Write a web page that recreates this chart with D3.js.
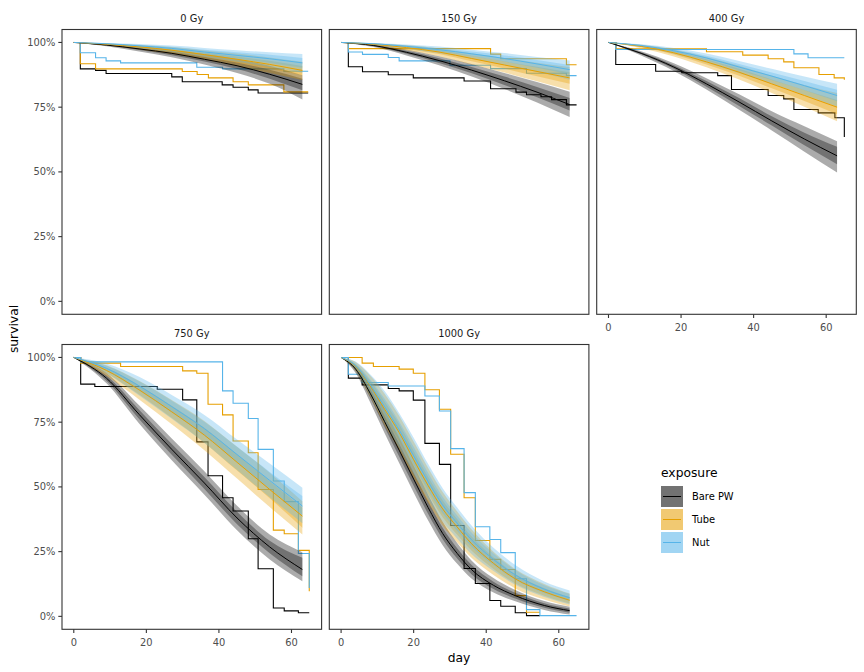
<!DOCTYPE html>
<html><head><meta charset="utf-8">
<script src="https://cdn.jsdelivr.net/npm/d3@7"></script>
<style>body{margin:0;background:#fff} text{font-family:"DejaVu Sans",sans-serif}</style>
</head><body><svg id="c" width="864" height="672"></svg>
<script>
// ---------- data ----------
const panels = ["0 Gy","150 Gy","400 Gy","750 Gy","1000 Gy"];
const exposures = ["Bare PW","Tube","Nut"];
const colors = ["#000000","#E69F00","#56B4E9"];
const yTicks = [0,0.25,0.5,0.75,1];
const yTickLabels = ["0%","25%","50%","75%","100%"];
const xTicks = [0,20,40,60];

const fitDaysA = [0,9,18,27,36,45,54,63];
const fitDaysB = [0,4,8,12,16,20,24,28,32,36,42,48,56,63];
const fitDays = {"0 Gy":fitDaysA,"150 Gy":fitDaysA,"400 Gy":fitDaysA,"750 Gy":fitDaysA,"1000 Gy":fitDaysB};

// model fit per panel: [Bare PW, Tube, Nut]
const fitMid = {
 "0 Gy":[[1,0.99,0.975,0.958,0.935,0.91,0.877,0.838],[1,0.993,0.983,0.97,0.953,0.935,0.915,0.892],[1,0.995,0.987,0.977,0.963,0.95,0.937,0.921]],
 "150 Gy":[[1,0.988,0.962,0.93,0.893,0.852,0.808,0.76],[1,0.993,0.98,0.963,0.938,0.913,0.888,0.863],[1,0.995,0.985,0.972,0.956,0.938,0.917,0.895]],
 "400 Gy":[[1,0.958,0.905,0.84,0.77,0.697,0.627,0.562],[1,0.985,0.96,0.925,0.885,0.84,0.795,0.75],[1,0.988,0.968,0.94,0.905,0.87,0.833,0.795]],
 "750 Gy":[[1,0.92,0.78,0.645,0.515,0.38,0.268,0.181],[1,0.95,0.875,0.79,0.7,0.595,0.49,0.387],[1,0.958,0.89,0.81,0.725,0.625,0.525,0.426]],
 "1000 Gy":[[1,0.955,0.862,0.752,0.642,0.53,0.42,0.32,0.243,0.18,0.12,0.08,0.042,0.022],[1,0.965,0.89,0.8,0.71,0.605,0.505,0.415,0.345,0.28,0.205,0.145,0.095,0.062],[1,0.968,0.895,0.81,0.72,0.62,0.52,0.43,0.36,0.295,0.22,0.16,0.105,0.072]]
};
const fitLo95 = {
 "0 Gy":[[1,0.985,0.965,0.943,0.915,0.882,0.84,0.78],[1,0.988,0.973,0.955,0.933,0.908,0.882,0.855],[1,0.991,0.978,0.963,0.944,0.925,0.905,0.883]],
 "150 Gy":[[1,0.982,0.95,0.912,0.868,0.82,0.768,0.712],[1,0.988,0.97,0.947,0.915,0.884,0.85,0.815],[1,0.99,0.976,0.958,0.937,0.913,0.886,0.856]],
 "400 Gy":[[1,0.95,0.89,0.818,0.74,0.66,0.578,0.498],[1,0.978,0.946,0.904,0.857,0.805,0.752,0.696],[1,0.982,0.956,0.922,0.881,0.84,0.797,0.752]],
 "750 Gy":[[1,0.9,0.745,0.603,0.47,0.333,0.22,0.136],[1,0.928,0.838,0.742,0.642,0.532,0.422,0.316],[1,0.938,0.853,0.763,0.67,0.565,0.46,0.36]],
 "1000 Gy":[[1,0.94,0.827,0.707,0.592,0.478,0.37,0.275,0.203,0.145,0.092,0.058,0.025,0.007],[1,0.948,0.848,0.738,0.642,0.535,0.438,0.35,0.285,0.225,0.16,0.108,0.065,0.038],[1,0.951,0.853,0.748,0.652,0.55,0.453,0.365,0.3,0.24,0.175,0.122,0.075,0.046]]
};
const fitHi95 = {
 "0 Gy":[[1,0.994,0.984,0.971,0.955,0.936,0.91,0.873],[1,0.996,0.99,0.982,0.969,0.957,0.942,0.925],[1,0.998,0.994,0.988,0.979,0.97,0.962,0.955]],
 "150 Gy":[[1,0.993,0.973,0.947,0.917,0.882,0.847,0.81],[1,0.997,0.989,0.977,0.958,0.94,0.922,0.905],[1,0.998,0.992,0.984,0.972,0.959,0.944,0.93]],
 "400 Gy":[[1,0.966,0.92,0.862,0.8,0.734,0.676,0.618],[1,0.991,0.973,0.944,0.91,0.872,0.836,0.805],[1,0.993,0.979,0.957,0.928,0.898,0.868,0.84]],
 "750 Gy":[[1,0.94,0.815,0.687,0.56,0.427,0.316,0.248],[1,0.97,0.91,0.836,0.755,0.655,0.555,0.445],[1,0.977,0.925,0.855,0.778,0.683,0.59,0.497]],
 "1000 Gy":[[1,0.97,0.897,0.797,0.692,0.582,0.47,0.365,0.283,0.215,0.148,0.102,0.059,0.037],[1,0.982,0.93,0.86,0.775,0.675,0.573,0.48,0.405,0.335,0.25,0.183,0.125,0.088],[1,0.984,0.935,0.87,0.785,0.69,0.588,0.495,0.42,0.35,0.265,0.198,0.135,0.1]]
};
const fitLo50 = {
 "0 Gy":[[1,0.988,0.971,0.951,0.926,0.897,0.86,0.815],[1,0.991,0.978,0.962,0.943,0.922,0.898,0.873],[1,0.993,0.982,0.97,0.953,0.937,0.921,0.902]],
 "150 Gy":[[1,0.985,0.956,0.921,0.881,0.836,0.788,0.737],[1,0.991,0.975,0.955,0.927,0.899,0.869,0.84],[1,0.993,0.98,0.965,0.947,0.926,0.902,0.876]],
 "400 Gy":[[1,0.954,0.898,0.829,0.755,0.679,0.603,0.53],[1,0.982,0.953,0.915,0.871,0.823,0.774,0.723],[1,0.985,0.962,0.931,0.893,0.855,0.815,0.773]],
 "750 Gy":[[1,0.91,0.762,0.624,0.492,0.356,0.244,0.155],[1,0.939,0.857,0.766,0.671,0.563,0.456,0.342],[1,0.948,0.872,0.787,0.698,0.595,0.492,0.39]],
 "1000 Gy":[[1,0.948,0.845,0.73,0.617,0.504,0.395,0.298,0.223,0.162,0.106,0.069,0.033,0.014],[1,0.956,0.869,0.769,0.676,0.57,0.472,0.383,0.315,0.253,0.183,0.127,0.08,0.05],[1,0.96,0.874,0.779,0.686,0.585,0.487,0.398,0.33,0.268,0.198,0.141,0.09,0.059]]
};
const fitHi50 = {
 "0 Gy":[[1,0.992,0.979,0.965,0.945,0.923,0.895,0.86],[1,0.995,0.987,0.976,0.961,0.946,0.929,0.909],[1,0.997,0.991,0.983,0.972,0.962,0.952,0.94]],
 "150 Gy":[[1,0.991,0.968,0.939,0.905,0.868,0.828,0.785],[1,0.995,0.985,0.97,0.949,0.927,0.906,0.885],[1,0.997,0.989,0.978,0.965,0.95,0.932,0.913]],
 "400 Gy":[[1,0.962,0.912,0.851,0.785,0.715,0.651,0.597],[1,0.988,0.967,0.935,0.898,0.857,0.816,0.778],[1,0.991,0.974,0.949,0.917,0.884,0.851,0.817]],
 "750 Gy":[[1,0.93,0.798,0.666,0.538,0.404,0.292,0.226],[1,0.96,0.893,0.813,0.728,0.626,0.523,0.42],[1,0.968,0.908,0.833,0.752,0.655,0.558,0.465]],
 "1000 Gy":[[1,0.962,0.879,0.774,0.667,0.556,0.445,0.342,0.263,0.198,0.134,0.091,0.051,0.03],[1,0.974,0.91,0.83,0.743,0.64,0.539,0.448,0.376,0.308,0.228,0.164,0.11,0.075],[1,0.976,0.915,0.84,0.753,0.655,0.554,0.462,0.39,0.323,0.243,0.179,0.12,0.086]]
};

// Kaplan-Meier steps: [day, survival]
const kmBare = {
 "0 Gy":[[0,1],[1.8,0.898],[6,0.892],[8.9,0.88],[27,0.867],[29.9,0.848],[40.9,0.836],[43.9,0.827],[48.1,0.817],[50.8,0.805],[64.6,0.805]],
 "150 Gy":[[0,1],[2,0.906],[5.9,0.887],[13,0.875],[19.9,0.863],[33.9,0.851],[41.2,0.821],[48.2,0.808],[51.1,0.798],[55.1,0.79],[58,0.779],[62.1,0.759],[64.9,0.759]],
 "400 Gy":[[0,1],[2,0.915],[13,0.889],[20.2,0.883],[30.1,0.872],[33.9,0.818],[44,0.795],[48.3,0.782],[51.1,0.741],[57.8,0.728],[62.4,0.709],[65,0.635]],
 "750 Gy":[[0,1],[1.9,0.897],[5.8,0.888],[23,0.877],[30,0.836],[33.9,0.674],[37,0.543],[41,0.458],[43.9,0.407],[48.1,0.3],[50.8,0.184],[55,0.032],[58,0.021],[61.9,0.014],[64.9,0.014]],
 "1000 Gy":[[0,1],[2,0.92],[5.8,0.894],[13,0.88],[16,0.871],[19.9,0.835],[23.1,0.668],[27.1,0.587],[30.2,0.351],[33.9,0.185],[37,0.127],[41,0.061],[44,0.039],[48,0.014],[51.1,0.003],[54.8,0.003]]
};
const kmTube = {
 "0 Gy":[[0,1],[1.8,0.918],[6,0.898],[29.9,0.888],[34,0.876],[37.1,0.863],[43.9,0.848],[48.1,0.836],[57.9,0.809],[64.6,0.809]],
 "150 Gy":[[0,1],[2,0.976],[41.2,0.955],[44,0.937],[62.1,0.914],[64.9,0.914]],
 "400 Gy":[[0,1],[2,0.975],[27,0.964],[37,0.951],[44,0.937],[48.3,0.925],[51.1,0.902],[58,0.876],[62.2,0.863],[65,0.856]],
 "750 Gy":[[0,1],[1.9,0.978],[12.9,0.965],[30,0.948],[33.9,0.939],[37,0.819],[41,0.778],[43.9,0.677],[48.1,0.632],[50.8,0.49],[55,0.333],[58,0.319],[61.9,0.255],[64.9,0.097]],
 "1000 Gy":[[0,1],[5.8,0.978],[8.9,0.965],[16,0.955],[19.9,0.939],[23.1,0.875],[27.1,0.8],[30.2,0.626],[33.9,0.458],[37,0.293],[41,0.22],[44,0.181],[48,0.08],[51.1,0.016],[54.8,0.016]]
};
const kmNut = {
 "0 Gy":[[0,1],[1.8,0.96],[6,0.941],[8.9,0.929],[12.9,0.921],[33.9,0.904],[41,0.898],[57.9,0.889],[64.6,0.889]],
 "150 Gy":[[0,1],[2,0.963],[5.9,0.954],[13,0.942],[16,0.929],[30,0.912],[41.2,0.899],[51.1,0.881],[62.1,0.872],[64.9,0.872]],
 "400 Gy":[[0,1],[2,0.973],[51.1,0.956],[55,0.941],[65,0.941]],
 "750 Gy":[[0,1],[1.9,0.983],[41,0.871],[43.9,0.823],[48.1,0.764],[50.8,0.645],[55,0.523],[58,0.443],[61.9,0.243],[64.9,0.11]],
 "1000 Gy":[[0,1],[2,0.935],[5.8,0.903],[13,0.89],[23.1,0.851],[27.1,0.793],[30.2,0.648],[33.9,0.478],[37,0.346],[41,0.297],[44,0.246],[48,0.145],[51.1,0.026],[54.8,0.003],[64.9,0.003]]
};
const kmAll = [kmBare, kmTube, kmNut];

// ---------- layout ----------
const svg = d3.select("#c");
const colX = [62, 329.3, 596.7], rowY = [29.5, 344.5];
const pw = 259.6, ph = 284.8;
const panelPos = [[0,0],[1,0],[2,0],[0,1],[1,1]];
const showY = [true,false,false,true,false];
const showX = [false,false,true,true,true];
const ribbonAlpha = 0.33;

const x = d3.scaleLinear().domain([-3.25, 68.3]).range([0, pw]);
const y = d3.scaleLinear().domain([-0.05, 1.05]).range([ph, 0]);

panels.forEach((p, i) => {
  const [c, r] = panelPos[i];
  const g = svg.append("g").attr("transform", `translate(${colX[c]},${rowY[r]})`);
  const cid = "clip" + i;
  g.append("clipPath").attr("id", cid).append("rect").attr("width", pw).attr("height", ph);
  const inner = g.append("g").attr("clip-path", `url(#${cid})`);

  // KM step curves
  const stepLine = d3.line().x(d => x(d[0])).y(d => y(d[1])).curve(d3.curveStepAfter);
  kmAll.forEach((km, e) => {
    inner.append("path").attr("d", stepLine(km[p])).attr("fill", "none")
      .attr("stroke", colors[e]).attr("stroke-width", 1.1);
  });

  // ribbons
  const days = fitDays[p];
  exposures.forEach((ex, e) => {
    [[fitLo95, fitHi95], [fitLo50, fitHi50]].forEach(([lo, hi]) => {
      const area = d3.area().x((d, k) => x(days[k])).y0((d, k) => y(lo[p][e][k])).y1((d, k) => y(hi[p][e][k]))
        .curve(d3.curveMonotoneX);
      inner.append("path").attr("d", area(days)).attr("fill", colors[e]).attr("fill-opacity", ribbonAlpha);
    });
  });
  // fitted lines
  exposures.forEach((ex, e) => {
    const ln = d3.line().x((d, k) => x(days[k])).y((d, k) => y(fitMid[p][e][k])).curve(d3.curveMonotoneX);
    inner.append("path").attr("d", ln(days)).attr("fill", "none").attr("stroke", colors[e]).attr("stroke-width", 1);
  });

  // border
  g.append("rect").attr("width", pw).attr("height", ph).attr("fill", "none").attr("stroke", "#333").attr("stroke-width", 1.1);

  // strip label
  g.append("text").attr("x", pw / 2).attr("y", -7.5).attr("text-anchor", "middle")
    .attr("font-size", "9.9px").attr("fill", "#1a1a1a").text(p);

  if (showY[i]) {
    yTicks.forEach((t, k) => {
      g.append("line").attr("x1", -3.7).attr("x2", 0).attr("y1", y(t)).attr("y2", y(t)).attr("stroke", "#333").attr("stroke-width", 1.1);
      g.append("text").attr("x", -6.5).attr("y", y(t) + 3.5).attr("text-anchor", "end")
        .attr("font-size", "9.9px").attr("fill", "#4d4d4d").text(yTickLabels[k]);
    });
  }
  if (showX[i]) {
    xTicks.forEach(t => {
      g.append("line").attr("x1", x(t)).attr("x2", x(t)).attr("y1", ph).attr("y2", ph + 3.7).attr("stroke", "#333").attr("stroke-width", 1.1);
      g.append("text").attr("x", x(t)).attr("y", ph + 16.5).attr("text-anchor", "middle")
        .attr("font-size", "9.9px").attr("fill", "#4d4d4d").text(t);
    });
  }
});

// axis titles
svg.append("text").attr("transform", "translate(18,329) rotate(-90)").attr("text-anchor", "middle")
  .attr("font-size", "12.3px").attr("fill", "#000").text("survival");
svg.append("text").attr("x", 459).attr("y", 662).attr("text-anchor", "middle")
  .attr("font-size", "12.3px").attr("fill", "#000").text("day");

// legend
const lg = svg.append("g").attr("transform", "translate(661,0)");
lg.append("text").attr("x", 0).attr("y", 477).attr("font-size", "12.3px").attr("fill", "#000").text("exposure");
exposures.forEach((ex, e) => {
  const ky = 486 + e * 23;
  lg.append("rect").attr("x", 0).attr("y", ky).attr("width", 22).attr("height", 21).attr("fill", colors[e]).attr("fill-opacity", ribbonAlpha);
  lg.append("rect").attr("x", 0).attr("y", ky).attr("width", 22).attr("height", 21).attr("fill", colors[e]).attr("fill-opacity", ribbonAlpha);
  lg.append("line").attr("x1", 2).attr("x2", 20).attr("y1", ky + 10.5).attr("y2", ky + 10.5).attr("stroke", colors[e]).attr("stroke-width", 1);
  lg.append("text").attr("x", 31).attr("y", ky + 14).attr("font-size", "9.9px").attr("fill", "#000").text(ex);
});
</script></body></html>
